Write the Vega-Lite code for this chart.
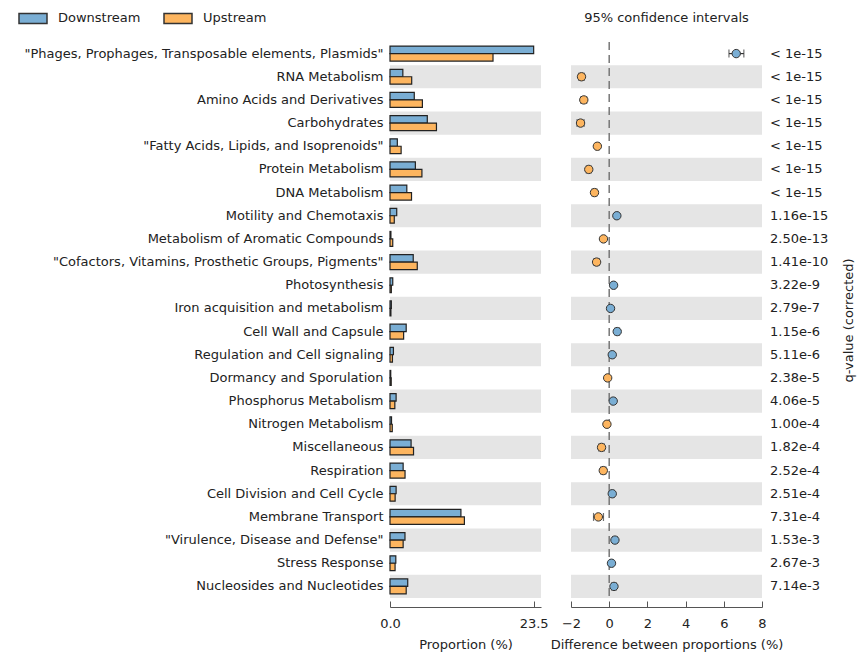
{
  "$schema": "https://vega.github.io/schema/vega-lite/v6.json",
  "padding": {"left": 5, "top": 3, "right": 5, "bottom": 5},
  "background": "white",
  "bounds": "flush",
  "config": {
    "view": {"stroke": null},
    "font": "DejaVu Sans",
    "axis": {"labelFont": "DejaVu Sans", "titleFont": "DejaVu Sans", "labelFontSize": 13, "titleFontSize": 13, "titleFontWeight": "normal", "labelColor": "#222", "titleColor": "#222", "grid": false, "domainColor": "#555", "tickColor": "#555"},
    "legend": {"labelFont": "DejaVu Sans", "labelFontSize": 13, "labelColor": "#222"},
    "title": {"font": "DejaVu Sans", "fontSize": 13, "fontWeight": "normal", "color": "#222"}
  },
  "data": {"values": [
    {"name": "\"Phages, Prophages, Transposable elements, Plasmids\"", "Downstream": 23.5, "Upstream": 16.85, "diff": 6.65, "lo": 6.27, "hi": 7.05, "q": "< 1e-15", "higher": "Downstream"},
    {"name": "RNA Metabolism", "Downstream": 2.1, "Upstream": 3.55, "diff": -1.45, "lo": -1.6, "hi": -1.3, "q": "< 1e-15", "higher": "Upstream"},
    {"name": "Amino Acids and Derivatives", "Downstream": 3.97, "Upstream": 5.3, "diff": -1.33, "lo": -1.48, "hi": -1.18, "q": "< 1e-15", "higher": "Upstream"},
    {"name": "Carbohydrates", "Downstream": 6.1, "Upstream": 7.6, "diff": -1.5, "lo": -1.68, "hi": -1.32, "q": "< 1e-15", "higher": "Upstream"},
    {"name": "\"Fatty Acids, Lipids, and Isoprenoids\"", "Downstream": 1.2, "Upstream": 1.82, "diff": -0.62, "lo": -0.72, "hi": -0.52, "q": "< 1e-15", "higher": "Upstream"},
    {"name": "Protein Metabolism", "Downstream": 4.15, "Upstream": 5.22, "diff": -1.07, "lo": -1.2, "hi": -0.94, "q": "< 1e-15", "higher": "Upstream"},
    {"name": "DNA Metabolism", "Downstream": 2.75, "Upstream": 3.52, "diff": -0.77, "lo": -0.9, "hi": -0.64, "q": "< 1e-15", "higher": "Upstream"},
    {"name": "Motility and Chemotaxis", "Downstream": 1.1, "Upstream": 0.7, "diff": 0.4, "lo": 0.33, "hi": 0.47, "q": "1.16e-15", "higher": "Downstream"},
    {"name": "Metabolism of Aromatic Compounds", "Downstream": 0.15, "Upstream": 0.45, "diff": -0.3, "lo": -0.36, "hi": -0.24, "q": "2.50e-13", "higher": "Upstream"},
    {"name": "\"Cofactors, Vitamins, Prosthetic Groups, Pigments\"", "Downstream": 3.8, "Upstream": 4.46, "diff": -0.66, "lo": -0.8, "hi": -0.52, "q": "1.41e-10", "higher": "Upstream"},
    {"name": "Photosynthesis", "Downstream": 0.45, "Upstream": 0.22, "diff": 0.23, "lo": 0.17, "hi": 0.29, "q": "3.22e-9", "higher": "Downstream"},
    {"name": "Iron acquisition and metabolism", "Downstream": 0.22, "Upstream": 0.15, "diff": 0.07, "lo": 0.03, "hi": 0.11, "q": "2.79e-7", "higher": "Downstream"},
    {"name": "Cell Wall and Capsule", "Downstream": 2.65, "Upstream": 2.23, "diff": 0.42, "lo": 0.3, "hi": 0.54, "q": "1.15e-6", "higher": "Downstream"},
    {"name": "Regulation and Cell signaling", "Downstream": 0.56, "Upstream": 0.4, "diff": 0.16, "lo": 0.1, "hi": 0.22, "q": "5.11e-6", "higher": "Downstream"},
    {"name": "Dormancy and Sporulation", "Downstream": 0.12, "Upstream": 0.2, "diff": -0.08, "lo": -0.12, "hi": -0.04, "q": "2.38e-5", "higher": "Upstream"},
    {"name": "Phosphorus Metabolism", "Downstream": 1.0, "Upstream": 0.79, "diff": 0.21, "lo": 0.12, "hi": 0.3, "q": "4.06e-5", "higher": "Downstream"},
    {"name": "Nitrogen Metabolism", "Downstream": 0.25, "Upstream": 0.37, "diff": -0.12, "lo": -0.18, "hi": -0.06, "q": "1.00e-4", "higher": "Upstream"},
    {"name": "Miscellaneous", "Downstream": 3.45, "Upstream": 3.85, "diff": -0.4, "lo": -0.55, "hi": -0.25, "q": "1.82e-4", "higher": "Upstream"},
    {"name": "Respiration", "Downstream": 2.15, "Upstream": 2.46, "diff": -0.31, "lo": -0.45, "hi": -0.17, "q": "2.52e-4", "higher": "Upstream"},
    {"name": "Cell Division and Cell Cycle", "Downstream": 1.0, "Upstream": 0.84, "diff": 0.16, "lo": 0.08, "hi": 0.24, "q": "2.51e-4", "higher": "Downstream"},
    {"name": "Membrane Transport", "Downstream": 11.6, "Upstream": 12.17, "diff": -0.57, "lo": -0.82, "hi": -0.3, "q": "7.31e-4", "higher": "Upstream"},
    {"name": "\"Virulence, Disease and Defense\"", "Downstream": 2.45, "Upstream": 2.15, "diff": 0.3, "lo": 0.18, "hi": 0.42, "q": "1.53e-3", "higher": "Downstream"},
    {"name": "Stress Response", "Downstream": 0.95, "Upstream": 0.83, "diff": 0.12, "lo": 0.05, "hi": 0.19, "q": "2.67e-3", "higher": "Downstream"},
    {"name": "Nucleosides and Nucleotides", "Downstream": 2.9, "Upstream": 2.65, "diff": 0.25, "lo": 0.13, "hi": 0.37, "q": "7.14e-3", "higher": "Downstream"}
  ]},
  "spacing": 30,
  "resolve": {"scale": {"color": "shared"}},
  "hconcat": [
    {
      "width": 151,
      "height": 556,
      "layer": [
        {
          "transform": [{"window": [{"op": "row_number", "as": "rn"}]}],
          "mark": {"type": "rect", "color": "#e5e5e5"},
          "encoding": {
            "y": {"field": "name", "type": "nominal", "sort": null, "scale": {"paddingInner": 0, "paddingOuter": 0}, "axis": {"title": null, "ticks": false, "domain": false, "labelPadding": 7, "labelLimit": 500, "minExtent": 385, "maxExtent": 385}},
            "x": {"datum": 0, "type": "quantitative", "scale": {"domain": [0, 24.7], "nice": false, "zero": false}, "title": "Proportion (%)", "axis": {"values": [0, 23.5], "format": ".1f", "offset": 9, "tickSize": -6, "labelPadding": 16, "titlePadding": 8, "labelFlush": false}},
            "x2": {"datum": 24.7},
            "opacity": {"condition": {"test": "datum.rn % 2 == 0", "value": 1}, "value": 0}
          }
        },
        {
          "transform": [{"fold": ["Downstream", "Upstream"], "as": ["group", "value"]}],
          "mark": {"type": "bar", "stroke": "#222", "strokeWidth": 1.2},
          "encoding": {
            "y": {"field": "name", "type": "nominal", "sort": null, "scale": {"paddingInner": 0, "paddingOuter": 0}, "axis": {"title": null, "ticks": false, "domain": false, "labelPadding": 7, "labelLimit": 500, "minExtent": 385, "maxExtent": 385}},
            "yOffset": {"field": "group", "type": "nominal", "scale": {"paddingInner": 0, "paddingOuter": 0.55}},
            "x": {"field": "value", "type": "quantitative", "scale": {"domain": [0, 24.7], "nice": false, "zero": false}, "title": "Proportion (%)", "axis": {"values": [0, 23.5], "format": ".1f", "offset": 9, "tickSize": -6, "labelPadding": 16, "titlePadding": 8, "labelFlush": false}},
            "color": {"field": "group", "type": "nominal", "scale": {"domain": ["Downstream", "Upstream"], "range": ["#7aaed4", "#fdb55f"]}, "legend": {"title": null, "orient": "none", "legendX": -372, "legendY": -39, "direction": "horizontal", "symbolType": "M-1,-0.36L1,-0.36L1,0.36L-1,0.36Z", "symbolSize": 784, "symbolStrokeColor": "#222", "symbolStrokeWidth": 1.5, "symbolOpacity": 1, "labelOffset": 10, "columnPadding": 20}}
          }
        }
      ]
    },
    {
      "width": 191,
      "height": 556,
      "title": {"text": "95% confidence intervals", "offset": 16},
      "layer": [
        {
          "transform": [{"window": [{"op": "row_number", "as": "rn"}]}],
          "mark": {"type": "rect", "color": "#e5e5e5"},
          "encoding": {
            "y": {"field": "name", "type": "nominal", "sort": null, "scale": {"paddingInner": 0, "paddingOuter": 0}, "axis": {"orient": "right", "labels": false, "ticks": false, "domain": false, "title": "q-value (corrected)", "titleAngle": 270, "titlePadding": 93}},
            "x": {"datum": -2, "type": "quantitative", "scale": {"domain": [-2, 8], "nice": false, "zero": false}, "title": "Difference between proportions (%)", "axis": {"values": [-2, 0, 2, 4, 6, 8], "offset": 9, "tickSize": -6, "labelPadding": 16, "titlePadding": 8, "labelFlush": false}},
            "x2": {"datum": 8},
            "opacity": {"condition": {"test": "datum.rn % 2 == 0", "value": 1}, "value": 0}
          }
        },
        {
          "transform": [{"aggregate": [{"op": "count", "as": "n"}]}],
          "mark": {"type": "rule", "color": "#777", "strokeWidth": 1.5, "strokeDash": [8, 5]},
          "encoding": {
            "x": {"datum": 0, "type": "quantitative", "title": "Difference between proportions (%)", "axis": {"values": [-2, 0, 2, 4, 6, 8], "offset": 9, "tickSize": -6, "labelPadding": 16, "titlePadding": 8, "labelFlush": false}}
          }
        },
        {
          "mark": {"type": "errorbar", "ticks": {"size": 8, "color": "#333"}, "color": "#333", "thickness": 1.2},
          "encoding": {
            "y": {"field": "name", "type": "nominal", "sort": null, "scale": {"paddingInner": 0, "paddingOuter": 0}, "axis": {"orient": "right", "labels": false, "ticks": false, "domain": false, "title": "q-value (corrected)", "titleAngle": 270, "titlePadding": 93}},
            "x": {"field": "lo", "type": "quantitative", "title": "Difference between proportions (%)", "axis": {"values": [-2, 0, 2, 4, 6, 8], "offset": 9, "tickSize": -6, "labelPadding": 16, "titlePadding": 8, "labelFlush": false}},
            "x2": {"field": "hi"}
          }
        },
        {
          "mark": {"type": "point", "shape": "circle", "filled": true, "size": 70, "opacity": 1, "stroke": "#333", "strokeWidth": 1},
          "encoding": {
            "y": {"field": "name", "type": "nominal", "sort": null, "scale": {"paddingInner": 0, "paddingOuter": 0}, "axis": {"orient": "right", "labels": false, "ticks": false, "domain": false, "title": "q-value (corrected)", "titleAngle": 270, "titlePadding": 93}},
            "x": {"field": "diff", "type": "quantitative", "title": "Difference between proportions (%)", "axis": {"values": [-2, 0, 2, 4, 6, 8], "offset": 9, "tickSize": -6, "labelPadding": 16, "titlePadding": 8, "labelFlush": false}},
            "color": {"field": "higher", "type": "nominal"}
          }
        },
        {
          "mark": {"type": "text", "align": "left", "dx": 8, "fontSize": 13, "color": "#222"},
          "encoding": {
            "y": {"field": "name", "type": "nominal", "sort": null, "scale": {"paddingInner": 0, "paddingOuter": 0}, "axis": {"orient": "right", "labels": false, "ticks": false, "domain": false, "title": "q-value (corrected)", "titleAngle": 270, "titlePadding": 93}},
            "x": {"datum": 8, "type": "quantitative", "title": "Difference between proportions (%)", "axis": {"values": [-2, 0, 2, 4, 6, 8], "offset": 9, "tickSize": -6, "labelPadding": 16, "titlePadding": 8, "labelFlush": false}},
            "text": {"field": "q"}
          }
        }
      ]
    }
  ]
}
